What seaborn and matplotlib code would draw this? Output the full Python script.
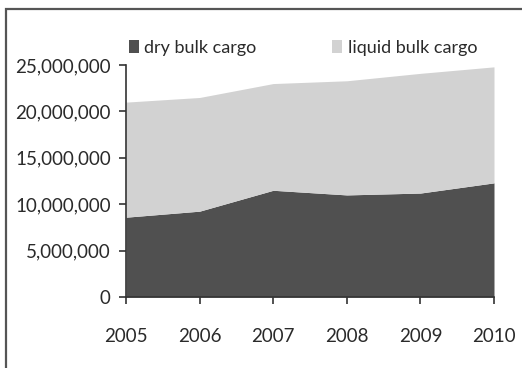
import matplotlib
matplotlib.use("Agg")
import matplotlib.pyplot as plt
from matplotlib.patches import Patch, Rectangle
from matplotlib.ticker import FuncFormatter
import seaborn as sns
import pandas as pd

years = [2005, 2006, 2007, 2008, 2009, 2010]
dry_bulk = [8600000, 9250000, 11500000, 11000000, 11200000, 12300000]
liquid_bulk = [12400000, 12250000, 11500000, 12300000, 12900000, 12500000]
series_names = ["dry bulk cargo", "liquid bulk cargo"]
y_ticks = [0, 5000000, 10000000, 15000000, 20000000, 25000000]

df = pd.DataFrame({"year": years, series_names[0]: dry_bulk, series_names[1]: liquid_bulk})

sns.set_theme(style="white")
plt.rcParams["font.family"] = ["Lato", "DejaVu Sans"]

colors = ["#505050", "#d2d2d2"]

fig = plt.figure(figsize=(5.22, 3.68), dpi=100)
ax = fig.add_axes([126 / 522, 1 - 297 / 368, (494 - 126) / 522, (297 - 65) / 368])

ax.stackplot(df["year"], df[series_names[0]], df[series_names[1]],
             colors=colors, linewidth=0)

ax.set_xlim(2005, 2010)
ax.set_ylim(0, 25000000)
ax.set_xticks(years)
ax.set_yticks(y_ticks)
ax.yaxis.set_major_formatter(FuncFormatter(lambda v, p: f"{int(v):,}"))
ax.tick_params(axis="both", labelsize=13.5, colors="#333333", length=5, width=1.2,
               direction="out", labelcolor="#2a2a2a")
ax.tick_params(axis="x", pad=17)
ax.tick_params(axis="y", pad=6)
ax.tick_params(left=True, bottom=True)

for side in ["top", "right"]:
    ax.spines[side].set_visible(False)
for side in ["left", "bottom"]:
    ax.spines[side].set_color("#333333")
    ax.spines[side].set_linewidth(1.2)
ax.set_xlabel("")
ax.set_ylabel("")

handles = [Patch(facecolor=colors[0], edgecolor="none"),
           Patch(facecolor=colors[1], edgecolor="none")]
fig.legend(handles, series_names, loc="center", bbox_to_anchor=(303 / 522, 1 - 48 / 368),
           ncol=2, frameon=False, fontsize=13, handlelength=0.55, handleheight=0.75,
           handletextpad=0.3, columnspacing=4.2, labelcolor="#2a2a2a")

# chart area frame
fig.patches.append(Rectangle((6 / 522, -0.05), 1.2, 1 - 9 / 368 + 0.05,
                             transform=fig.transFigure, fill=False,
                             edgecolor="#555555", linewidth=1.6))

fig.savefig("out.png", dpi=100)
